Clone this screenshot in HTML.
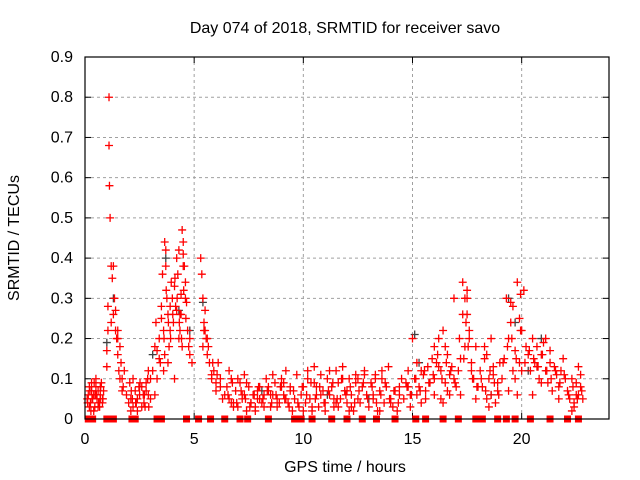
<!DOCTYPE html>
<html><head><meta charset="utf-8"><style>
body{margin:0;background:#fff;}
svg{display:block;font-family:"Liberation Sans",sans-serif;}
</style></head><body>
<svg id="chart" width="640" height="480">
<text x="345" y="33" font-size="16" text-anchor="middle">Day 074 of 2018, SRMTID for receiver savo</text>
<text x="345" y="472" font-size="16" text-anchor="middle">GPS time / hours</text>
<text transform="translate(19,238) rotate(-90)" font-size="16" text-anchor="middle">SRMTID / TECUs</text>
<g id="grid"></g><g id="ticks"></g><g id="marks"></g>
<rect x="85" y="57" width="524" height="362" fill="none" stroke="#000" stroke-width="1.2"/>
</svg>
<script>
const xTicks=[0,5,10,15,20];
const yTicks=[0,0.1,0.2,0.3,0.4,0.5,0.6,0.7,0.8,0.9];
const yTickLabels=["0","0.1","0.2","0.3","0.4","0.5","0.6","0.7","0.8","0.9"];
const redHours=[0.1,0.15,0.2,0.25,0.3,0.35,0.4,0.45,0.5,0.55,0.6,0.65,0.7,0.75,0.8,0.85,0.2,0.3,0.4,0.5,0.6,0.7,0.8,0.3,0.5,0.7,
1.0,1.05,1.1,1.1,1.12,1.15,1.2,1.25,1.3,1.3,1.35,1.4,1.45,1.5,1.5,1.55,1.6,1.6,1.65,1.7,1.75,1.8,1.2,1.4,1.5,1.7,1.0,1.05,
1.9,2.0,2.05,2.1,2.2,2.3,2.4,2.5,2.6,2.7,2.8,2.9,3.0,2.2,2.4,2.6,2.8,3.0,2.1,2.5,2.9,2.35,2.75,
3.1,3.2,3.25,3.3,3.4,3.45,3.5,3.55,3.6,3.65,3.7,3.75,3.8,3.85,3.9,3.95,3.2,3.4,3.6,3.8,3.65,3.7,3.9,3.3,3.5,
4.0,4.05,4.1,4.15,4.2,4.25,4.3,4.35,4.4,4.45,4.5,4.55,4.6,4.65,4.7,4.75,4.8,4.9,4.1,4.3,4.4,4.5,4.6,4.2,4.35,4.45,4.5,4.8,
5.3,5.35,5.4,5.45,5.5,5.55,5.6,5.7,5.8,5.9,6.0,6.1,6.2,6.3,6.4,5.4,5.6,5.8,6.0,6.2,5.5,
6.5,6.6,6.7,6.8,6.9,7.0,7.1,7.2,7.3,7.4,7.5,7.6,7.7,7.8,7.9,8.0,8.1,8.2,8.3,8.4,8.5,8.6,8.7,8.8,8.9,9.0,9.1,9.2,9.3,9.4,9.5,
6.6,6.8,7.0,7.2,7.4,7.6,7.8,8.0,8.2,8.4,8.6,8.8,9.0,9.2,9.4,6.7,7.3,7.9,8.5,9.1,9.6,9.7,9.8,9.9,
10.0,10.1,10.2,10.3,10.4,10.5,10.6,10.7,10.8,10.9,11.0,11.1,11.2,11.3,11.4,11.5,11.6,11.7,11.8,11.9,12.0,12.1,12.2,12.3,12.4,12.5,
10.0,10.2,10.4,10.6,10.8,11.0,11.2,11.4,11.6,11.8,12.0,12.2,12.4,10.5,11.5,12.5,11.9,12.1,
12.6,12.7,12.8,12.9,13.0,13.1,13.2,13.3,13.4,13.5,13.6,13.7,13.8,13.9,14.0,14.1,14.2,14.3,14.4,14.5,12.8,13.2,13.6,14.0,14.4,13.3,13.5,
14.6,14.7,14.8,14.9,15.0,15.1,15.2,15.3,15.4,15.5,15.6,15.7,15.8,15.9,16.0,14.8,15.2,15.6,16.0,14.9,15.4,
16.1,16.2,16.3,16.4,16.5,16.6,16.7,16.8,16.9,17.0,16.3,16.5,16.7,16.9,16.0,16.2,16.4,16.6,
17.1,17.2,17.3,17.4,17.5,17.6,17.7,17.8,17.9,18.0,17.3,17.4,17.5,17.6,17.2,17.7,17.9,17.5,17.45,
18.1,18.2,18.3,18.4,18.5,18.6,18.7,18.8,18.9,19.0,18.3,18.5,18.7,18.9,18.6,18.4,
19.1,19.2,19.3,19.4,19.5,19.6,19.7,19.8,19.9,20.0,20.1,20.2,19.4,19.6,19.8,20.0,19.5,19.9,19.95,19.7,
20.3,20.4,20.5,20.6,20.7,20.8,20.9,21.0,21.1,21.2,21.3,21.4,21.5,21.6,21.7,21.8,21.9,22.0,20.5,20.9,21.3,21.7,20.7,21.1,
22.1,22.2,22.3,22.4,22.5,22.6,22.7,22.8,22.3,22.5,22.7,22.4,22.6,
0.12,0.22,0.32,0.42,0.52,0.62,0.72,0.82,0.27,0.47,0.67,2.12,2.32,2.52,2.72,2.92,2.17,2.47,2.67,2.87,
3.62,3.72,3.82,3.92,4.02,4.12,4.22,4.32,4.42,4.52,4.62,5.45,5.65,5.85,6.05,
6.55,6.75,6.95,7.15,7.35,7.55,7.75,7.95,8.15,8.35,8.55,8.75,8.95,9.15,9.35,9.55,9.75,9.95,
10.15,10.35,10.55,10.75,10.95,11.15,11.35,11.55,11.75,11.95,12.15,12.35,12.55,12.75,12.95,13.15,13.35,13.55,13.75,13.95,14.15,14.35,
14.75,14.95,15.15,15.35,15.55,15.75,15.95,16.15,16.35,16.55,16.75,16.95,17.15,17.35,17.55,17.75,17.95,
18.15,18.35,18.55,18.75,18.95,19.15,19.35,19.55,19.75,19.95,20.15,20.35,20.55,20.75,20.95,21.15,21.35,21.55,21.75,21.95,22.15,22.35,22.55,22.75];
const redValues=[0.05,0.06,0.08,0.04,0.07,0.05,0.06,0.03,0.08,0.05,0.07,0.04,0.06,0.09,0.05,0.07,0.03,0.09,0.02,0.1,0.03,0.05,0.04,0.07,0.06,0.08,
0.17,0.28,0.8,0.68,0.58,0.5,0.38,0.35,0.26,0.38,0.3,0.22,0.2,0.16,0.22,0.12,0.18,0.1,0.14,0.1,0.08,0.12,0.24,0.27,0.2,0.07,0.13,0.22,
0.06,0.04,0.09,0.05,0.03,0.07,0.02,0.06,0.08,0.04,0.09,0.06,0.1,0.1,0.05,0.03,0.07,0.05,0.02,0.08,0.12,0.04,0.03,
0.12,0.18,0.24,0.1,0.2,0.14,0.28,0.36,0.22,0.16,0.42,0.3,0.26,0.18,0.22,0.34,0.06,0.15,0.12,0.14,0.44,0.38,0.28,0.17,0.25,
0.3,0.24,0.33,0.28,0.4,0.36,0.42,0.26,0.31,0.47,0.44,0.38,0.34,0.29,0.22,0.18,0.2,0.14,0.1,0.2,0.26,0.38,0.3,0.27,0.22,0.18,0.41,0.16,
0.4,0.36,0.3,0.24,0.22,0.2,0.16,0.14,0.1,0.12,0.09,0.14,0.08,0.05,0.06,0.18,0.2,0.11,0.07,0.1,0.27,
0.08,0.05,0.1,0.04,0.07,0.03,0.09,0.05,0.06,0.02,0.08,0.04,0.06,0.03,0.05,0.08,0.04,0.06,0.1,0.07,0.03,0.06,0.09,0.05,0.04,0.08,0.06,0.12,0.04,0.07,0.02,
0.12,0.03,0.1,0.06,0.09,0.04,0.02,0.05,0.03,0.08,0.11,0.03,0.1,0.05,0.08,0.04,0.11,0.07,0.06,0.09,0.05,0.11,0.03,0.06,
0.08,0.04,0.12,0.05,0.02,0.09,0.06,0.03,0.11,0.07,0.04,0.1,0.06,0.08,0.03,0.12,0.09,0.05,0.13,0.07,0.04,0.1,0.06,0.02,0.09,0.05,
0.02,0.1,0.03,0.08,0.06,0.02,0.12,0.05,0.03,0.1,0.07,0.03,0.11,0.13,0.04,0.1,0.07,0.02,
0.04,0.08,0.11,0.06,0.03,0.09,0.05,0.1,0.02,0.07,0.12,0.04,0.08,0.13,0.05,0.03,0.07,0.02,0.06,0.1,0.12,0.06,0.1,0.04,0.08,0.11,0.02,
0.05,0.09,0.12,0.06,0.2,0.1,0.14,0.08,0.04,0.11,0.07,0.13,0.09,0.15,0.1,0.08,0.06,0.05,0.18,0.03,0.12,
0.14,0.2,0.12,0.22,0.09,0.16,0.06,0.13,0.1,0.08,0.05,0.18,0.11,0.3,0.06,0.13,0.04,0.07,
0.12,0.15,0.26,0.18,0.3,0.22,0.14,0.1,0.18,0.08,0.34,0.3,0.26,0.2,0.06,0.12,0.05,0.32,0.24,
0.12,0.08,0.15,0.05,0.1,0.06,0.13,0.04,0.09,0.14,0.18,0.03,0.11,0.07,0.2,0.16,
0.1,0.15,0.3,0.2,0.24,0.12,0.17,0.34,0.14,0.22,0.32,0.18,0.07,0.28,0.06,0.12,0.29,0.25,0.31,0.1,
0.16,0.12,0.2,0.14,0.18,0.1,0.16,0.19,0.12,0.09,0.14,0.07,0.13,0.11,0.08,0.12,0.15,0.1,0.06,0.09,0.17,0.05,0.13,0.2,
0.07,0.05,0.1,0.04,0.06,0.13,0.08,0.05,0.02,0.09,0.11,0.03,0.06,
0.04,0.07,0.05,0.09,0.06,0.04,0.08,0.05,0.02,0.06,0.03,0.07,0.04,0.09,0.06,0.03,0.05,0.08,0.06,0.1,
0.2,0.32,0.24,0.2,0.26,0.35,0.3,0.24,0.2,0.32,0.25,0.22,0.18,0.14,0.11,
0.06,0.09,0.04,0.07,0.05,0.03,0.06,0.08,0.05,0.07,0.04,0.06,0.08,0.05,0.03,0.07,0.04,0.08,
0.06,0.09,0.05,0.08,0.04,0.07,0.09,0.05,0.1,0.06,0.08,0.04,0.07,0.09,0.05,0.08,0.04,0.06,0.09,0.05,0.07,0.04,
0.08,0.06,0.1,0.07,0.12,0.09,0.11,0.16,0.1,0.14,0.12,0.09,0.2,0.15,0.18,0.1,0.08,
0.1,0.07,0.12,0.09,0.06,0.14,0.18,0.2,0.15,0.22,0.14,0.17,0.15,0.13,0.16,0.12,0.1,0.12,0.09,0.11,0.06,0.08,0.05,0.07];
const darkHours=[1.0,1.3,3.1,3.7,4.3,4.8,5.4,8.1,11.1,13.0,15.1,15.3,18.6,19.4,19.7,20.3,20.9];
const darkValues=[0.19,0.3,0.16,0.4,0.27,0.22,0.29,0.07,0.06,0.05,0.21,0.14,0.06,0.3,0.24,0.12,0.2];
const zeroHours=[0.15,0.35,1.0,1.3,2.15,2.3,3.3,3.5,4.65,5.2,5.75,6.4,7.1,7.45,8.4,9.6,9.9,10.4,11.3,12.0,12.7,13.35,14.2,15.15,15.6,16.4,17.1,17.9,18.2,18.9,19.3,19.7,20.4,21.3,22.1,22.6];
const zeroValues=zeroHours.map(()=>0);

const NS="http://www.w3.org/2000/svg";
const X0=85,X1=609,Y0=419,Y1=57,xMax=24,yMax=0.9;
const xs=h=>X0+h/xMax*(X1-X0);
const ys=v=>Y0-v/yMax*(Y0-Y1);
const grid=document.getElementById('grid'),ticks=document.getElementById('ticks'),marks=document.getElementById('marks');
function mk(tag,a,parent){const e=document.createElementNS(NS,tag);for(const k in a)e.setAttribute(k,a[k]);parent.appendChild(e);return e;}
yTicks.forEach((v,i)=>{
  const y=ys(v);
  if(v>0&&v<0.9){const g=mk('line',{x1:X0,x2:X1,y1:y,y2:y,stroke:'#a0a0a0','stroke-dasharray':'3,3'},grid);
  
  }
  mk('line',{x1:X0,x2:X0+6,y1:y,y2:y,stroke:'#000'},ticks);
  mk('line',{x1:X1,x2:X1-6,y1:y,y2:y,stroke:'#000'},ticks);
  const t=mk('text',{x:X0-12,y:y+5,'font-size':16,'text-anchor':'end'},ticks);t.textContent=yTickLabels[i];
  
  
});
xTicks.forEach(h=>{
  const x=xs(h);
  if(h>0){const g=mk('line',{x1:x,x2:x,y1:Y0,y2:Y1,stroke:'#a0a0a0','stroke-dasharray':'3,3'},grid);
  
  }
  mk('line',{x1:x,x2:x,y1:Y0,y2:Y0-6,stroke:'#000'},ticks);
  mk('line',{x1:x,x2:x,y1:Y1,y2:Y1+6,stroke:'#000'},ticks);
  const t=mk('text',{x:x,y:Y0+25,'font-size':16,'text-anchor':'middle'},ticks);t.textContent=String(h);
  
  
});
function plus(h,v,color){
  const x=xs(h),y=ys(v);
  const p=mk('path',{d:`M${x-4},${y}h8M${x},${y-4}v8`,stroke:color,'stroke-width':1.3,fill:'none'},marks);
  
  
}
darkHours.forEach((h,i)=>plus(h,darkValues[i],'#404040'));
redHours.forEach((h,i)=>plus(h,redValues[i],'#ff0000'));
zeroHours.forEach((h,i)=>{
  const r=mk('rect',{x:xs(h)-3.5,y:ys(zeroValues[i])-3.5,width:7,height:7,fill:'#ff0000'},marks);
  
  
});
</script>
</body></html>
